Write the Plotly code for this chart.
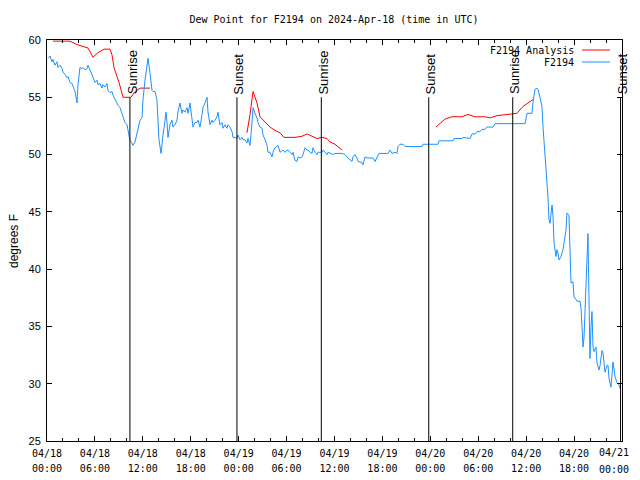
import pandas as pd
import plotly.graph_objects as go

# ---------------- data ----------------
start = "2024-04-18 00:00"
end = "2024-04-21 00:00"

# F2194 observations: hours since 2024-04-18 00:00 UTC, dew point (F)
blue_hours = [0.13, 0.38, 0.63, 0.75, 1.00, 1.25, 1.38, 1.63, 1.88, 2.00, 2.25, 2.50, 2.63, 2.88, 3.13, 3.26,
              3.51, 3.76, 3.88, 4.13, 4.38, 4.51, 4.76, 5.01, 5.13, 5.38, 5.63, 5.76, 6.01, 6.26, 6.39, 6.64,
              6.89, 7.01, 7.26, 7.51, 7.64, 7.89, 8.14, 8.26, 8.51, 8.77, 8.89, 9.14, 9.39, 9.52, 9.77, 10.02,
              10.14, 10.39, 10.64, 10.77, 11.02, 11.27, 11.52, 11.65, 11.90, 12.02, 12.27, 12.52, 12.65, 12.90,
              13.15, 13.27, 13.52, 13.77, 13.90, 14.02, 14.28, 14.40, 14.53, 14.78, 14.90, 15.03, 15.15, 15.40,
              15.65, 15.78, 16.03, 16.28, 16.40, 16.65, 16.90, 17.03, 17.28, 17.53, 17.66, 17.91, 18.16, 18.28,
              18.53, 18.78, 18.91, 19.16, 19.41, 19.53, 19.78, 20.04, 20.16, 20.41, 20.66, 20.79, 21.04, 21.29,
              21.41, 21.66, 21.91, 22.04, 22.29, 22.54, 22.66, 22.92, 23.17, 23.29, 23.54, 23.79, 23.92, 24.17,
              24.42, 24.54, 24.79, 25.04, 25.17, 25.42, 25.67, 25.80, 26.05, 26.30, 26.42, 26.67, 26.92, 27.05,
              27.30, 27.55, 27.67, 27.92, 28.17, 28.30, 28.55, 28.80, 28.93, 29.18, 29.43, 29.55, 29.80, 30.05,
              30.18, 30.43, 30.68, 30.80, 31.05, 31.30, 31.43, 31.68, 31.93, 32.06, 32.31, 32.56, 32.68, 32.93,
              33.18, 33.31, 33.56, 33.81, 33.93, 34.18, 34.44, 34.56, 34.81, 35.06, 35.19, 35.44, 35.81, 36.06,
              36.94, 37.32, 37.69, 38.19, 38.32, 38.57, 38.82, 38.94, 39.44, 39.57, 39.82, 40.07, 40.82, 41.07,
              41.32, 41.57, 42.70, 42.95, 43.20, 43.58, 43.83, 43.95, 44.20, 44.58, 44.83, 46.96, 47.08, 48.96,
              49.09, 50.84, 50.96, 51.97, 52.09, 52.97, 53.22, 53.59, 53.84, 54.22, 54.47, 54.85, 55.10, 55.85,
              56.10, 59.86, 60.11, 60.73, 60.86, 61.11, 61.36, 61.48, 61.73, 61.98, 62.11, 62.36, 62.61, 62.73,
              62.86, 62.99, 63.24, 63.36, 63.49, 63.61, 63.74, 63.86, 63.99, 64.11, 64.36, 64.61, 64.74, 64.99,
              65.11, 65.36, 65.49, 65.61, 65.86, 65.99, 66.37, 66.74, 66.87, 66.99, 67.12, 67.24, 67.49, 67.62,
              67.74, 67.80, 67.87, 67.99, 68.12, 68.24, 68.37, 68.49, 68.74, 68.87, 69.12, 69.25, 69.50, 69.62,
              69.75, 69.87, 70.12, 70.25, 70.37, 70.62, 70.75, 70.87, 71.13, 71.38, 71.63, 71.75]
blue_dewpt = [58.4, 58.6, 58.1, 58.3, 57.8, 58.1, 57.6, 57.8, 57.5, 57.2, 57.0, 56.7, 56.8, 56.3, 56.2, 55.9,
              55.5, 54.5, 56.1, 57.6, 57.5, 57.6, 57.4, 57.5, 57.8, 57.4, 56.9, 56.8, 56.3, 56.5, 56.1, 56.2,
              55.8, 56.1, 55.9, 56.2, 55.6, 55.4, 55.5, 55.2, 54.8, 54.5, 54.3, 54.1, 53.6, 53.3, 52.8, 52.6,
              52.1, 51.2, 51.0, 50.8, 51.1, 51.8, 52.4, 53.0, 53.2, 54.8, 56.5, 57.6, 58.4, 57.1,
              55.6, 55.5, 55.5, 54.8, 53.3, 51.3, 50.1, 51.1, 51.7, 53.0, 53.7, 52.8, 51.5, 52.6,
              53.0, 52.4, 52.6, 53.0, 53.7, 54.5, 53.6, 53.9, 53.7, 54.1, 53.6, 54.5, 53.3, 52.4,
              52.8, 52.8, 53.0, 52.4, 53.5, 54.1, 54.5, 55.0, 53.7, 52.6, 53.0, 52.8, 53.0, 53.3,
              53.7, 52.6, 52.8, 52.3, 52.6, 52.3, 52.6, 52.4, 52.0, 51.5, 51.5, 51.4, 51.7, 51.3,
              51.5, 51.3, 51.3, 51.0, 51.4, 50.8, 52.8, 54.1, 53.6, 53.2, 52.8, 52.4, 52.3, 51.7,
              51.3, 50.8, 50.2, 50.2, 49.8, 50.2, 50.6, 50.7, 50.8, 50.2, 50.4, 50.4, 50.2, 50.4,
              50.4, 50.2, 50.0, 50.2, 49.5, 49.4, 49.8, 49.7, 49.8, 50.0, 50.6, 50.4, 50.4, 50.2,
              50.1, 50.6, 50.2, 50.0, 50.2, 50.2, 50.2, 50.4, 50.2, 50.0, 50.2, 50.1, 50.0, 50.1,
              50.1, 50.0, 49.7, 49.4, 49.8, 50.0, 49.7, 49.4, 49.3, 49.1, 49.8, 49.7, 49.7, 49.4,
              49.7, 50.1, 50.1, 50.4, 50.1, 50.2, 50.1, 50.7, 50.9, 50.9, 50.7, 50.7, 50.9, 50.9,
              51.2, 51.2, 51.4, 51.4, 51.5, 51.4, 51.8, 51.8, 52.0, 52.0, 52.2, 52.2, 52.4, 52.4,
              52.7, 52.7, 53.6, 53.6, 54.6, 55.7, 55.8, 55.7, 55.0, 54.2, 52.4, 49.8, 48.0, 46.3,
              44.3, 44.0, 45.6, 44.6, 42.3, 41.6, 41.1, 41.7, 41.4, 40.8, 41.1, 41.7, 42.3, 43.4,
              44.9, 44.7, 41.7, 38.8, 38.9, 37.6, 37.2, 37.2, 36.6, 35.3, 33.2, 34.0, 38.9, 41.5,
              43.1, 40.4, 35.0, 32.2, 35.0, 36.3, 33.2, 32.8, 33.2, 31.8, 31.2, 31.6, 32.9, 32.7,
              31.8, 31.0, 31.6, 31.6, 30.5, 29.7, 30.8, 31.9, 30.6, 30.1, 29.9, 29.6]

# F2194 Analysis (None = gap in the analysis)
red_hours = [0.75, 2.88, 3.76, 4.76, 5.13, 5.76, 6.39, 7.14, 7.89, 8.14, 8.39, 8.77, 9.02, 9.52, 10.52,
             11.02, 11.65, 12.90, 18.0,
             25.04, 25.42, 25.80, 26.30, 26.67, 27.05, 27.55, 27.92, 28.55, 29.18, 29.68, 31.05, 31.93,
             32.56, 33.18, 33.81, 34.44, 35.06, 35.44, 36.06, 36.94, 42.0,
             48.71, 49.21, 49.84, 50.71, 51.97, 52.72, 53.59, 54.85, 55.47, 56.35, 57.35, 58.85, 59.60,
             60.23, 60.86]
red_dewpt = [59.9, 59.9, 59.6, 59.4, 59.3, 58.5, 58.9, 59.2, 59.2, 58.7, 57.6, 56.8, 56.3, 55.0, 55.0,
             55.5, 55.8, 55.8, None,
             51.9, 53.5, 55.5, 54.5, 53.3, 53.0, 52.6, 52.4, 52.1, 51.9, 51.5, 51.5, 51.6,
             51.8, 51.6, 51.4, 51.5, 51.4, 51.1, 50.9, 50.4, None,
             52.4, 52.7, 53.1, 53.3, 53.3, 53.5, 53.3, 53.3, 53.2, 53.4, 53.5, 53.6, 54.2,
             54.5, 54.8]

sun_times = ["2024-04-18 10:23", "2024-04-18 23:47", "2024-04-19 10:21",
             "2024-04-19 23:48", "2024-04-20 10:19", "2024-04-20 23:49"]
sun_labels = ["Sunrise", "Sunset", "Sunrise", "Sunset", "Sunrise", "Sunset"]
sun_top, sun_bottom = 55, 25

series_names = ["F2194 Analysis", "F2194"]
series_colors = ["#ff0000", "#1e90ff"]

tick_times = list(pd.date_range(start, end, freq="6h"))
date_labels = [t.strftime("%m/%d") for t in tick_times]
time_labels = [t.strftime("%H:%M") for t in tick_times]

title_text = "Dew Point for F2194 on 2024-Apr-18 (time in UTC)"
y_label = "degrees F"

# ---------------- build ----------------
t0 = pd.Timestamp(start)
blue_t = t0 + pd.to_timedelta(blue_hours, unit="h")
red_t = t0 + pd.to_timedelta(red_hours, unit="h")

MONO = "DejaVu Sans Mono"
SANS = "Liberation Sans"

# page has an 8px body margin: figure starts at page pixel 8
OFF = 8
FIG_W, FIG_H = 640 - OFF, 480 - OFF
# plot area in page pixels
L, R, T, B = 47, 622, 40, 441
W, H = R - L, B - T
def px(x): return (x - L) / W
def py(y): return (B - y) / H

fig = go.Figure()
fig.add_trace(go.Scatter(x=red_t, y=red_dewpt, mode="lines", name=series_names[0],
                         line=dict(color=series_colors[0], width=1), connectgaps=False,
                         showlegend=False))
fig.add_trace(go.Scatter(x=blue_t, y=blue_dewpt, mode="lines", name=series_names[1],
                         line=dict(color=series_colors[1], width=1), showlegend=False))
# invisible trace to host the second (time-of-day) label axis
fig.add_trace(go.Scatter(x=[start, end], y=[None, None], xaxis="x2", mode="lines",
                         showlegend=False, hoverinfo="skip"))

for t, lab in zip(sun_times, sun_labels):
    fig.add_shape(type="line", x0=t, x1=t, y0=sun_bottom, y1=sun_top, xref="x", yref="y",
                  line=dict(color="black", width=1))
    fig.add_annotation(x=t, y=sun_top, xref="x", yref="y", text=lab, showarrow=False,
                       textangle=-90, xanchor="center", yanchor="bottom", xshift=2, yshift=1,
                       font=dict(family=SANS, size=13, color="black"))

# gnuplot-style legend (text left of sample)
for i, (nm, col) in enumerate(zip(series_names, series_colors)):
    yy = 50 + 12 * i
    fig.add_annotation(x=px(576), y=py(yy), xref="paper", yref="paper", text=nm, showarrow=False,
                       xanchor="right", yanchor="middle",
                       font=dict(family=MONO, size=10, color="black"))
    fig.add_shape(type="line", x0=px(582), x1=px(610), y0=py(yy), y1=py(yy),
                  xref="paper", yref="paper", line=dict(color=col, width=1))

fig.add_annotation(x=px(14), y=py(241), xref="paper", yref="paper", text=y_label, showarrow=False,
                   textangle=-90, xanchor="center", yanchor="middle",
                   font=dict(family=SANS, size=12, color="black"))

# last tick label pair would be clipped at the right edge: draw it right-aligned inside the page
for lab, yy in ((date_labels[-1], 453), (time_labels[-1], 469)):
    fig.add_annotation(x=px(631), y=py(yy), xref="paper", yref="paper", text=lab, showarrow=False,
                       xanchor="right", yanchor="middle",
                       font=dict(family=MONO, size=10, color="black"))

two_h = 2 * 3600 * 1000
fig.update_layout(
    width=FIG_W, height=FIG_H,
    margin=dict(l=L - OFF, r=FIG_W - (R - OFF), t=T - OFF, b=FIG_H - (B - OFF), autoexpand=False),
    paper_bgcolor="white", plot_bgcolor="white",
    title=dict(text=title_text, x=px(334), xref="paper", xanchor="center",
               y=1 - (19 - OFF) / FIG_H, yref="container", yanchor="middle", automargin=False,
               font=dict(family=MONO, size=10, color="black")),
    xaxis=dict(type="date", range=[start, end], showgrid=False, zeroline=False, automargin=False,
               showline=True, linecolor="black", linewidth=1, mirror="ticks",
               ticks="inside", ticklen=5, tickcolor="black", tickwidth=1,
               tickmode="array", tickvals=tick_times, ticktext=date_labels[:-1] + [""],
               minor=dict(ticks="inside", ticklen=3, tickcolor="black", dtick=two_h, tick0=start,
                          showgrid=False),
               tickfont=dict(family=MONO, size=10, color="black"), ticklabelstandoff=3),
    xaxis2=dict(type="date", range=[start, end], overlaying="x", side="bottom", automargin=False,
                showgrid=False, zeroline=False, showline=False, ticks="",
                tickmode="array", tickvals=tick_times, ticktext=time_labels[:-1] + [""],
                tickfont=dict(family=MONO, size=10, color="black"), ticklabelstandoff=20),
    yaxis=dict(range=[25, 60], showgrid=False, zeroline=False, automargin=False,
               showline=True, linecolor="black", linewidth=1, mirror="ticks",
               ticks="inside", ticklen=5, tickcolor="black", tickwidth=1,
               tick0=25, dtick=5, tickfont=dict(family=SANS, size=11, color="black"),
               ticklabelstandoff=3),
    showlegend=False,
)

fig.write_html("out.html")
